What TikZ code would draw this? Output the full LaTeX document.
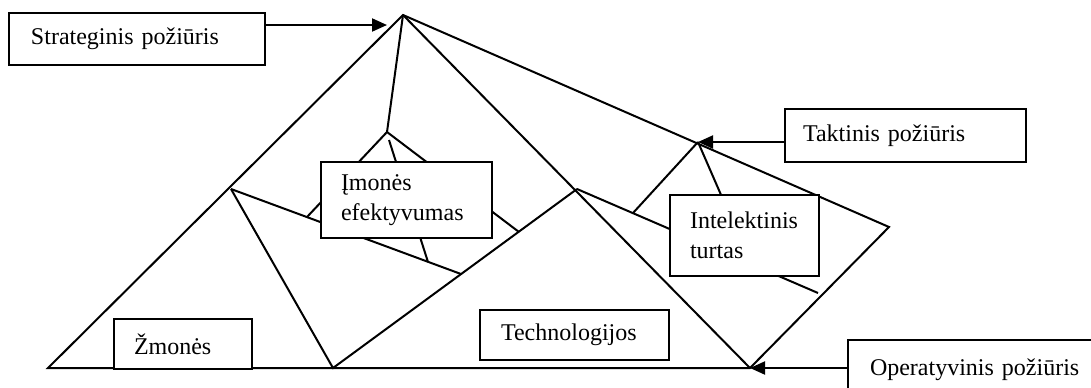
\documentclass[tikz,border=0pt]{standalone}
\usepackage{fontspec}
\setmainfont{Liberation Serif}
\usetikzlibrary{arrows.meta}
\hyphenpenalty=10000

\begin{document}
\begin{tikzpicture}[x=0.5pt, y=-0.5pt, line width=1pt,
    box/.style={draw, rectangle, fill=white, anchor=north west, align=left,
                inner ysep=0pt, font=\fontsize{12}{15}\selectfont},
    pointer/.style={-{Triangle[length=7.5pt, width=6.5pt]}}]
  \clip (0,0) rectangle (1091,387);

  % outline of the pyramid
  \coordinate (apex) at (403,15);
  \coordinate (lb)   at (48,368);
  \coordinate (br)   at (750,368);
  \coordinate (rc)   at (889,227);
  \draw (lb) -- (apex) -- (rc) -- (br) -- cycle;
  \draw (apex) -- (br);

  % left and middle parts
  \coordinate (lp) at (231,189);
  \coordinate (bm) at (333,368);
  \coordinate (mp) at (577,189);
  \draw (lp) -- (bm) -- (mp);
  \draw (lp) -- (461,274);

  % top tripod
  \coordinate (tv) at (387,132);
  \draw (apex) -- (tv);
  \draw (tv) -- (307,217);
  \draw (389,140) -- (428,262);
  \draw (tv) -- (519,232);

  % right tripod
  \coordinate (rv) at (698,142);
  \draw (rv) -- (633,213);
  \draw (rv) -- (745,250);
  \draw (mp) -- (818,293);

  \node (strat) [box, text width=106pt, inner xsep=11pt, minimum height=26pt]
                at (8,12) {Strateginis požiūris};
  \node (takt)  [box, text width=102.5pt, inner xsep=9pt, minimum height=26.5pt]
                at (784,108) {Taktinis požiūris};
  \node (oper)  [box, text width=110pt, inner xsep=11pt, minimum height=30pt]
                at (847,339) {Operatyvinis požiūris};
  \node (imon)  [box, text width=65.5pt, inner xsep=10pt, minimum height=38pt]
                at (320,161) {Įmonės\\efektyvumas};
  \node (intel) [box, text width=54.5pt, inner xsep=10pt, minimum height=40.5pt]
                at (669,194) {Intelektinis\\turtas};
  \node (zmon)  [box, text width=49pt, inner xsep=10pt, minimum height=25pt]
                at (113,318) {Žmonės};
  \node (tech)  [box, text width=73.5pt, inner xsep=10.5pt, minimum height=25pt]
                at (479,309) {Technologijos};

  \coordinate (stip) at (387,25);
  \draw[pointer] (strat.east |- stip) -- (stip);
  \draw[pointer] (takt.west |- rv) -- (rv);
  \draw[pointer] (oper.west |- br) -- (br);
\end{tikzpicture}
\end{document}
